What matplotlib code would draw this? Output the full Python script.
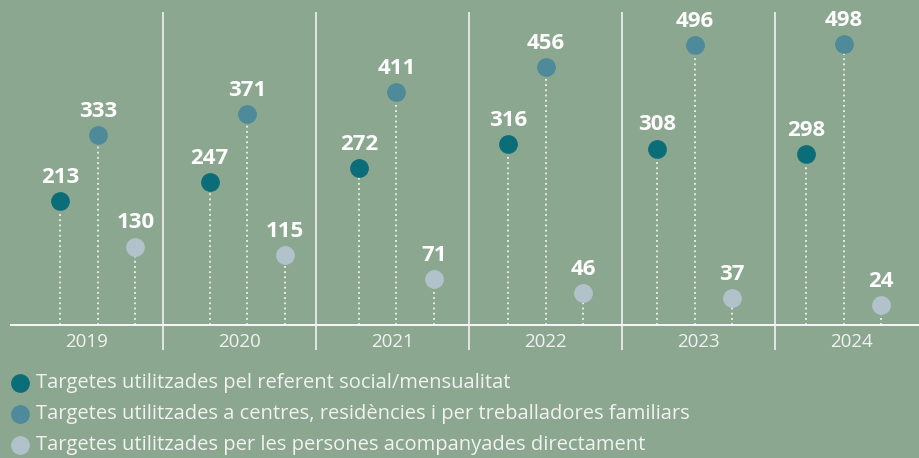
import matplotlib.pyplot as plt
from matplotlib.lines import Line2D

plt.rcParams['font.family'] = ['Open Sans', 'DejaVu Sans']

years = ['2019', '2020', '2021', '2022', '2023', '2024']
referent = [213, 247, 272, 316, 308, 298]
centres = [333, 371, 411, 456, 496, 498]
directes = [130, 115, 71, 46, 37, 24]

labels = ['Targetes utilitzades pel referent social/mensualitat',
          'Targetes utilitzades a centres, residències i per treballadores familiars',
          'Targetes utilitzades per les persones acompanyades directament']
colors = ['#0a6d78', '#4e8a9a', '#b1c2cb']
bg = '#8ba78f'

fig = plt.figure(figsize=(9.19, 4.58), dpi=100, facecolor=bg)
W, H = 919, 458
# axes spans from pixel x=10 to 928, y=12 to 350
ax = fig.add_axes([10 / W, 1 - 350 / H, 918 / W, 338 / H])
ax.set_facecolor(bg)
ax.set_xlim(0, 6)
ax.set_ylim(-58, 556)
ax.axis('off')

base = -12
ax.axhline(base, color='white', lw=1.3, xmin=0, xmax=1)
for k in range(1, 6):
    ax.axvline(k, color='#f2f2f2', lw=1.2)

step = 0.975
off = 0.245
for i, yr in enumerate(years):
    c = 0.575 + i * step
    ax.text(i + 0.5, -43, yr, ha='center', va='center', color='#f2f2f2',
            fontsize=13.5)
    for j, (vals, col) in enumerate(zip([referent, centres, directes], colors)):
        x = c + (j - 1) * off
        v = vals[i]
        ax.plot([x, x], [base, v], color='white', lw=1.1, ls=(0, (1.2, 2.2)), zorder=2)
        ax.plot(x, v, 'o', color=col, ms=13.5, mec='none', zorder=3)
        ax.annotate(str(v), (x, v), xytext=(0, 17), textcoords='offset points',
                    ha='center', va='center', color='white', fontsize=16,
                    fontweight='bold', zorder=4)

for k, (lab, col) in enumerate(zip(labels, colors)):
    yp = 1 - (383 + k * 31) / H
    fig.add_artist(Line2D([20 / W], [yp], marker='o', color=col, ms=13.5, mec='none'))
    fig.text(36 / W, yp, lab, ha='left', va='center', color='#f2f2f2', fontsize=14.5)

fig.savefig('out.png', dpi=100, facecolor=bg)
